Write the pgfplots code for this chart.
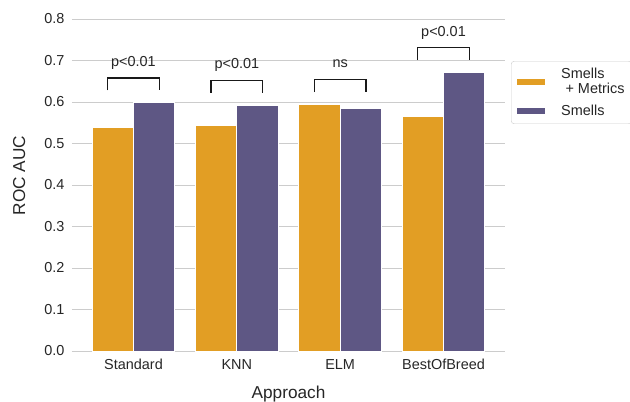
\documentclass[border=0pt]{standalone}
\usepackage{fontspec}
\setmainfont{Liberation Sans}
\usepackage{pgfplots}
\pgfplotsset{compat=1.18}
\definecolor{cOrange}{RGB}{226,158,36}
\definecolor{cPurple}{RGB}{94,87,132}
\definecolor{gridgray}{RGB}{204,204,204}
\definecolor{txt}{RGB}{38,38,38}
\newcommand{\tickfont}{\fontsize{14.5}{16}\selectfont}
\newcommand{\labfont}{\fontsize{17.3}{19}\selectfont}
\begin{document}
\begin{tikzpicture}
\begin{axis}[
  scale only axis, width=433bp, height=351bp,
  xmin=-0.595, xmax=3.595, ymin=0, ymax=0.8458,
  ybar, bar width=0.4,
  xtick={0,1,2,3}, xticklabels={Standard,KNN,ELM,BestOfBreed},
  ytick={0,0.1,0.2,0.3,0.4,0.5,0.6,0.7,0.8},
  major tick length=0pt,
  ymajorgrids, grid style={color=gridgray, line width=1bp},
  axis x line*=bottom, axis y line*=left,
  x axis line style={color=gridgray, line width=1bp, -},
  y axis line style={draw=none},
  /pgf/number format/assume math mode=true,
  /pgf/number format/fixed, /pgf/number format/fixed zerofill, /pgf/number format/precision=1,
  ticklabel style={font=\tickfont, text=txt},
  yticklabel style={anchor=east, xshift=-4bp},
  xticklabel style={anchor=north, yshift=-5bp},
  xlabel={Approach}, ylabel={ROC AUC},
  xlabel style={at={(axis description cs:0.5,-0.134)}, anchor=base, font=\labfont, text=txt},
  ylabel style={at={(axis description cs:-0.1085,0.5)}, anchor=base, font=\labfont, text=txt},
  legend style={at={(rel axis cs:1.0139,0.826)}, anchor=north west, draw=gridgray, rounded corners=3bp,
    fill=white, font=\tickfont, text=txt, inner xsep=5bp, inner ysep=5bp, row sep=6bp,
    /tikz/every odd column/.append style={column sep=13bp}},
  legend cell align=left,
]
\addplot[fill=cOrange, draw=white, line width=1bp, bar shift=-0.2,
  legend image code/.code={\fill[fill=cOrange, sharp corners] (0bp,-3.5bp) rectangle (29bp,3.5bp);}]
  coordinates {(0,0.538) (1,0.543) (2,0.594) (3,0.564)};
\addplot[fill=cPurple, draw=white, line width=1bp, bar shift=0.2,
  legend image code/.code={\fill[fill=cPurple, sharp corners] (0bp,-3.5bp) rectangle (29bp,3.5bp);}]
  coordinates {(0,0.598) (1,0.592) (2,0.585) (3,0.671)};
\legend{{\shortstack[l]{Smells\\[1bp]\hspace{0.3em}+ Metrics}}, Smells}
% significance brackets
\addplot[ybar=false, sharp plot, black!90, line width=1.3bp, mark=none, forget plot]
  coordinates {(-0.25,0.628) (-0.25,0.658) (0.25,0.658) (0.25,0.628)};
\addplot[ybar=false, sharp plot, black!90, line width=1.3bp, mark=none, forget plot]
  coordinates {(0.75,0.622) (0.75,0.652) (1.25,0.652) (1.25,0.622)};
\addplot[ybar=false, sharp plot, black!90, line width=1.3bp, mark=none, forget plot]
  coordinates {(1.75,0.624) (1.75,0.654) (2.25,0.654) (2.25,0.624)};
\addplot[ybar=false, sharp plot, black!90, line width=1.3bp, mark=none, forget plot]
  coordinates {(2.75,0.701) (2.75,0.731) (3.25,0.731) (3.25,0.701)};
\node[anchor=base, font=\tickfont, text=txt] at (axis cs:0,0.686) {p<0.01};
\node[anchor=base, font=\tickfont, text=txt] at (axis cs:1,0.680) {p<0.01};
\node[anchor=base, font=\tickfont, text=txt] at (axis cs:2,0.682) {ns};
\node[anchor=base, font=\tickfont, text=txt] at (axis cs:3,0.759) {p<0.01};
\end{axis}
\pgfresetboundingbox
\path (current axis.south west) ++(-72bp,-51bp) rectangle ++(630bp,402bp);
\end{tikzpicture}
\end{document}
